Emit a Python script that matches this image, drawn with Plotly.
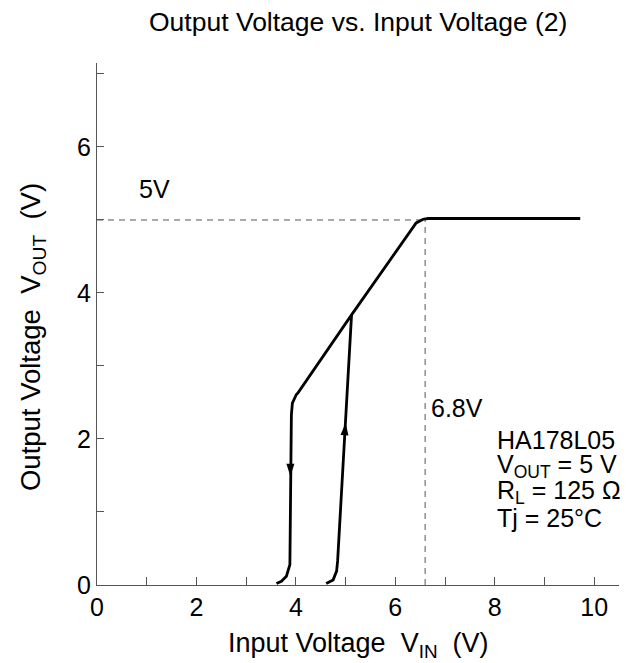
import plotly.graph_objects as go

# Hysteresis curve: falling branch (down line + ramp + flat regulation)
fall_x = [3.61, 3.71, 3.81, 3.88, 3.91, 3.93, 4.01, 4.04, 5.12, 6.29, 6.42, 6.56, 6.66, 9.72]
fall_y = [0.02, 0.05, 0.12, 0.28, 2.33, 2.49, 2.61, 2.63, 3.70, 4.85, 4.96, 5.01, 5.02, 5.02]
# Rising branch (up line joining the ramp)
rise_x = [4.61, 4.75, 4.82, 4.84, 5.12]
rise_y = [0.02, 0.07, 0.19, 0.33, 3.70]
# Direction arrows (tip positions)
arrow_down = (3.89, 1.49)
arrow_up = (5.00, 2.22)

ref_vout = 5.0
ref_vin = 6.6

info_lines = ["HA178L05", "V<sub>OUT</sub> = 5 V", "R<sub>L</sub> = 125 Ω", "Tj = 25°C"]
info_y = [1.986, 1.63, 1.274, 0.918]

FONT = "Liberation Sans, Arial, sans-serif"
AX = "#555555"

fig = go.Figure()

fig.add_trace(go.Scatter(x=[0, ref_vin], y=[ref_vout, ref_vout], mode="lines",
                         line=dict(color=AX, width=1, dash="6px,5px"), hoverinfo="skip"))
fig.add_trace(go.Scatter(x=[ref_vin, ref_vin], y=[0, ref_vout], mode="lines",
                         line=dict(color=AX, width=1, dash="6px,5px"), hoverinfo="skip"))

fig.add_trace(go.Scatter(x=fall_x, y=fall_y, mode="lines",
                         line=dict(color="black", width=2.8)))
fig.add_trace(go.Scatter(x=rise_x, y=rise_y, mode="lines",
                         line=dict(color="black", width=2.8)))

fig.add_trace(go.Scatter(x=[arrow_down[0]], y=[arrow_down[1]], mode="markers",
                         marker=dict(symbol="arrow", angle=180, size=13, color="black",
                                     line=dict(width=0))))
fig.add_trace(go.Scatter(x=[arrow_up[0]], y=[arrow_up[1]], mode="markers",
                         marker=dict(symbol="arrow", angle=5, size=13, color="black",
                                     line=dict(width=0))))

fig.update_layout(
    width=633, height=663,
    margin=dict(l=89, r=22, t=55, b=86),
    paper_bgcolor="white", plot_bgcolor="white",
    showlegend=False,
    font=dict(family=FONT, size=25, color="black"),
)
fig.update_xaxes(range=[0, 10.5], tick0=0, dtick=2,
                 ticks="inside", ticklen=8, tickcolor=AX, tickwidth=1,
                 minor=dict(dtick=1, tick0=0, ticks="inside", ticklen=8, tickcolor=AX, tickwidth=1),
                 showline=True, linecolor=AX, linewidth=1, showgrid=False, zeroline=False,
                 tickfont=dict(size=25))
fig.update_yaxes(range=[0, 7.15], tick0=0, dtick=2,
                 ticks="inside", ticklen=7, tickcolor=AX, tickwidth=1,
                 minor=dict(dtick=1, tick0=0, ticks="inside", ticklen=7, tickcolor=AX, tickwidth=1),
                 showline=True, linecolor=AX, linewidth=1, showgrid=False, zeroline=False,
                 tickfont=dict(size=25))

fig.add_annotation(text="Output Voltage vs. Input Voltage (2)", xref="paper", yref="paper",
                   x=0.5, y=1, yshift=24, xanchor="center", yanchor="bottom",
                   showarrow=False, font=dict(size=26.5))
fig.add_annotation(text="Input Voltage  V<sub>IN</sub>  (V)", xref="paper", yref="paper",
                   x=0.5, y=0, yshift=-60, xanchor="center", yanchor="middle",
                   showarrow=False, font=dict(size=27))
fig.add_annotation(text="Output Voltage  V<sub>OUT</sub>  (V)", xref="paper", yref="paper",
                   x=0, xshift=-65, y=0.475, xanchor="center", yanchor="middle", textangle=-90,
                   showarrow=False, font=dict(size=27.5))
fig.add_annotation(text="5V", x=0.8, y=5.2, xanchor="left", yanchor="bottom",
                   showarrow=False, font=dict(size=25))
fig.add_annotation(text="6.8V", x=6.68, y=2.2, xanchor="left", yanchor="bottom",
                   showarrow=False, font=dict(size=25))
for t, yy in zip(info_lines, info_y):
    fig.add_annotation(text=t, x=8.0, y=yy, xanchor="left", yanchor="middle", align="left",
                       showarrow=False, font=dict(size=25))

fig.write_html("out.html")
